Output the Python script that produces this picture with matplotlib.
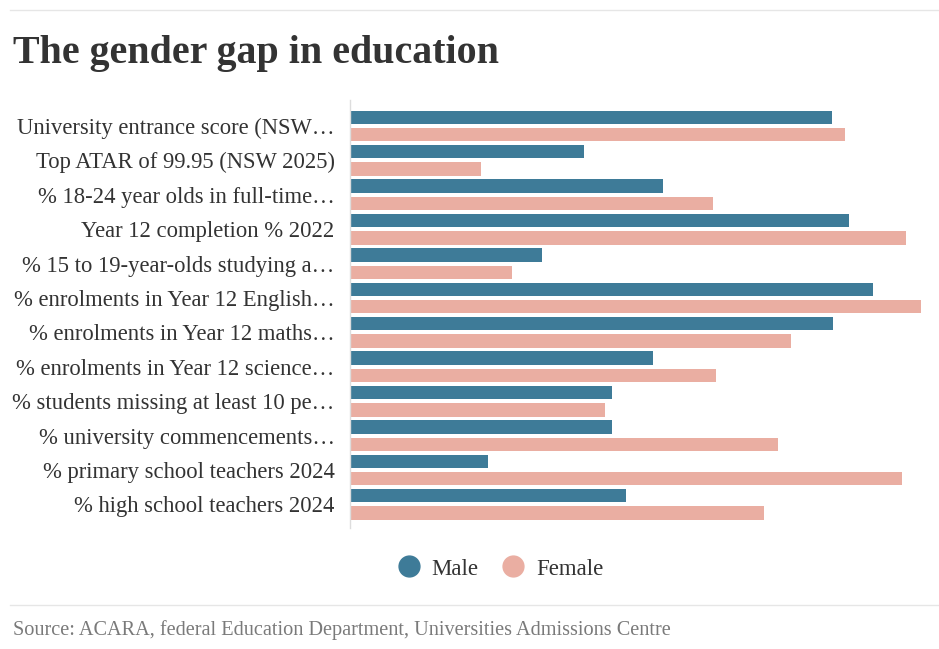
import matplotlib.pyplot as plt
from matplotlib.lines import Line2D
import numpy as np

# Data (percent scale, male + female = 100 for the teacher rows)
categories = [
    "University entrance score (NSW…",
    "Top ATAR of 99.95 (NSW 2025)",
    "% 18-24 year olds in full-time…",
    "Year 12 completion % 2022",
    "% 15 to 19-year-olds studying a…",
    "% enrolments in Year 12 English…",
    "% enrolments in Year 12 maths…",
    "% enrolments in Year 12 science…",
    "% students missing at least 10 pe…",
    "% university commencements…",
    "% primary school teachers 2024",
    "% high school teachers 2024",
]
male = [69.9, 33.9, 45.4, 72.3, 27.9, 75.9, 70.1, 44.0, 38.0, 38.0, 20.0, 40.0]
female = [71.7, 19.0, 52.6, 80.6, 23.5, 82.8, 64.0, 53.1, 37.0, 62.0, 80.0, 60.0]
series_names = ["Male", "Female"]

c_male = "#3e7b98"
c_female = "#eaaea2"
txt = "#333333"
serif = ["Liberation Serif", "DejaVu Serif"]

fig = plt.figure(figsize=(9.39, 6.49), dpi=100)
W, H = 939, 649

# plot area: axis line at x=350, from y=100 to y=528 px
ax = fig.add_axes([350 / W, 1 - 528 / H, (W - 350) / W, (528 - 100) / H])

y = np.arange(len(categories))
bh = 0.39
off = 0.253
ax.barh(y - off, male, height=bh, color=c_male)
ax.barh(y + off, female, height=bh, color=c_female)

ax.set_xlim(0, 85.4)
ax.set_ylim(len(categories) - 1 + 0.686, -0.756)
ax.set_xticks([])
ax.set_yticks(y)
ax.set_yticklabels(categories, fontsize=16.3, color=txt, family=serif)
ax.tick_params(axis="y", length=0, pad=11)
for s in ["top", "right", "bottom"]:
    ax.spines[s].set_visible(False)
ax.spines["left"].set_color("#dddddd")
ax.spines["left"].set_linewidth(1)

# title, rules and source
fig.text(13 / W, 1 - 63 / H, "The gender gap in education", fontsize=28.8,
         fontweight="bold", color=txt, family=serif, va="baseline")
fig.add_artist(Line2D([10 / W, 1], [1 - 10 / H, 1 - 10 / H], color="#e6e6e6", lw=1))
fig.add_artist(Line2D([10 / W, 1], [1 - 605 / H, 1 - 605 / H], color="#e6e6e6", lw=1))
fig.text(13 / W, 1 - 635 / H,
         "Source: ACARA, federal Education Department, Universities Admissions Centre",
         fontsize=14.6, color="#7a7a7a", family=serif, va="baseline")

# legend
handles = [Line2D([], [], marker="o", ls="", markersize=15, color=c_male),
           Line2D([], [], marker="o", ls="", markersize=15, color=c_female)]
leg = fig.legend(handles, series_names, loc="center", bbox_to_anchor=(499 / W, 1 - 569 / H),
                 ncol=2, frameon=False, handletextpad=0.4, columnspacing=0.9,
                 prop={"family": serif, "size": 16.5}, handlelength=1.2)
for t in leg.get_texts():
    t.set_color(txt)

fig.savefig("out.png", dpi=100)
